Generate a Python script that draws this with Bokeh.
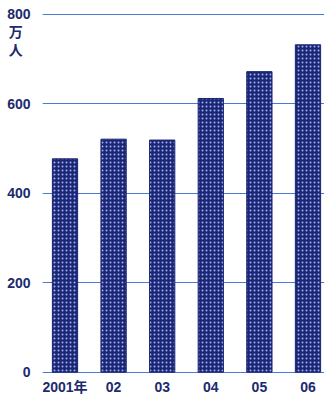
from bokeh.plotting import figure
from bokeh.models import FixedTicker, Range1d
from bokeh.embed import file_html
from bokeh.resources import INLINE

years = ["2001年", "02", "03", "04", "05", "06"]
values = [477, 521, 519, 612, 672, 732]
y_ticks = [0, 200, 400, 600, 800]
unit = ["万", "人"]
unit_pos = [760, 720]

xs = list(range(1, len(years) + 1))
FONT = "'Liberation Sans', 'Noto Sans CJK JP', sans-serif"
TXT = "#1c2a6e"

p = figure(width=324, height=397, output_backend="svg", toolbar_location=None,
           x_range=Range1d(0.537, 6.34), y_range=Range1d(-3, 802),
           min_border_left=42, min_border_right=0, min_border_top=13,
           min_border_bottom=21)
p.outline_line_color = None
p.background_fill_color = "white"
p.border_fill_color = "white"

p.vbar(x=xs, top=values, width=0.52, bottom=0,
       fill_color="#1b2675", line_color="#1b2675",
       hatch_pattern="dot", hatch_color="#a3b0ee", hatch_scale=4, hatch_weight=1)

p.xgrid.visible = False
p.ygrid.ticker = FixedTicker(ticks=y_ticks)
p.ygrid.grid_line_color = "#4a7ad8"
p.ygrid.grid_line_width = 1
p.ygrid.level = "underlay"

labels = {t: str(t) for t in y_ticks}
for u, pos in zip(unit, unit_pos):
    labels[pos] = u + "\u00a0\u00a0"
p.yaxis.ticker = FixedTicker(ticks=y_ticks + unit_pos)
p.yaxis.major_label_overrides = labels
p.yaxis.axis_line_color = None
p.yaxis.major_tick_line_color = None
p.yaxis.minor_tick_line_color = None
p.yaxis.major_label_standoff = 6
p.yaxis.major_label_text_font = FONT
p.yaxis.major_label_text_font_size = "14px"
p.yaxis.major_label_text_font_style = "bold"
p.yaxis.major_label_text_color = TXT

p.xaxis.ticker = FixedTicker(ticks=xs)
p.xaxis.major_label_overrides = {x: y for x, y in zip(xs, years)}
p.xaxis.axis_line_color = None
p.xaxis.major_tick_line_color = None
p.xaxis.minor_tick_line_color = None
p.xaxis.major_tick_out = 0
p.xaxis.major_tick_in = 0
p.xaxis.minor_tick_out = 0
p.xaxis.major_label_standoff = 5
p.xaxis.major_label_text_font = FONT
p.xaxis.major_label_text_font_size = "14px"
p.xaxis.major_label_text_font_style = "bold"
p.xaxis.major_label_text_color = TXT

open("out.html", "w").write(file_html(p, INLINE))
